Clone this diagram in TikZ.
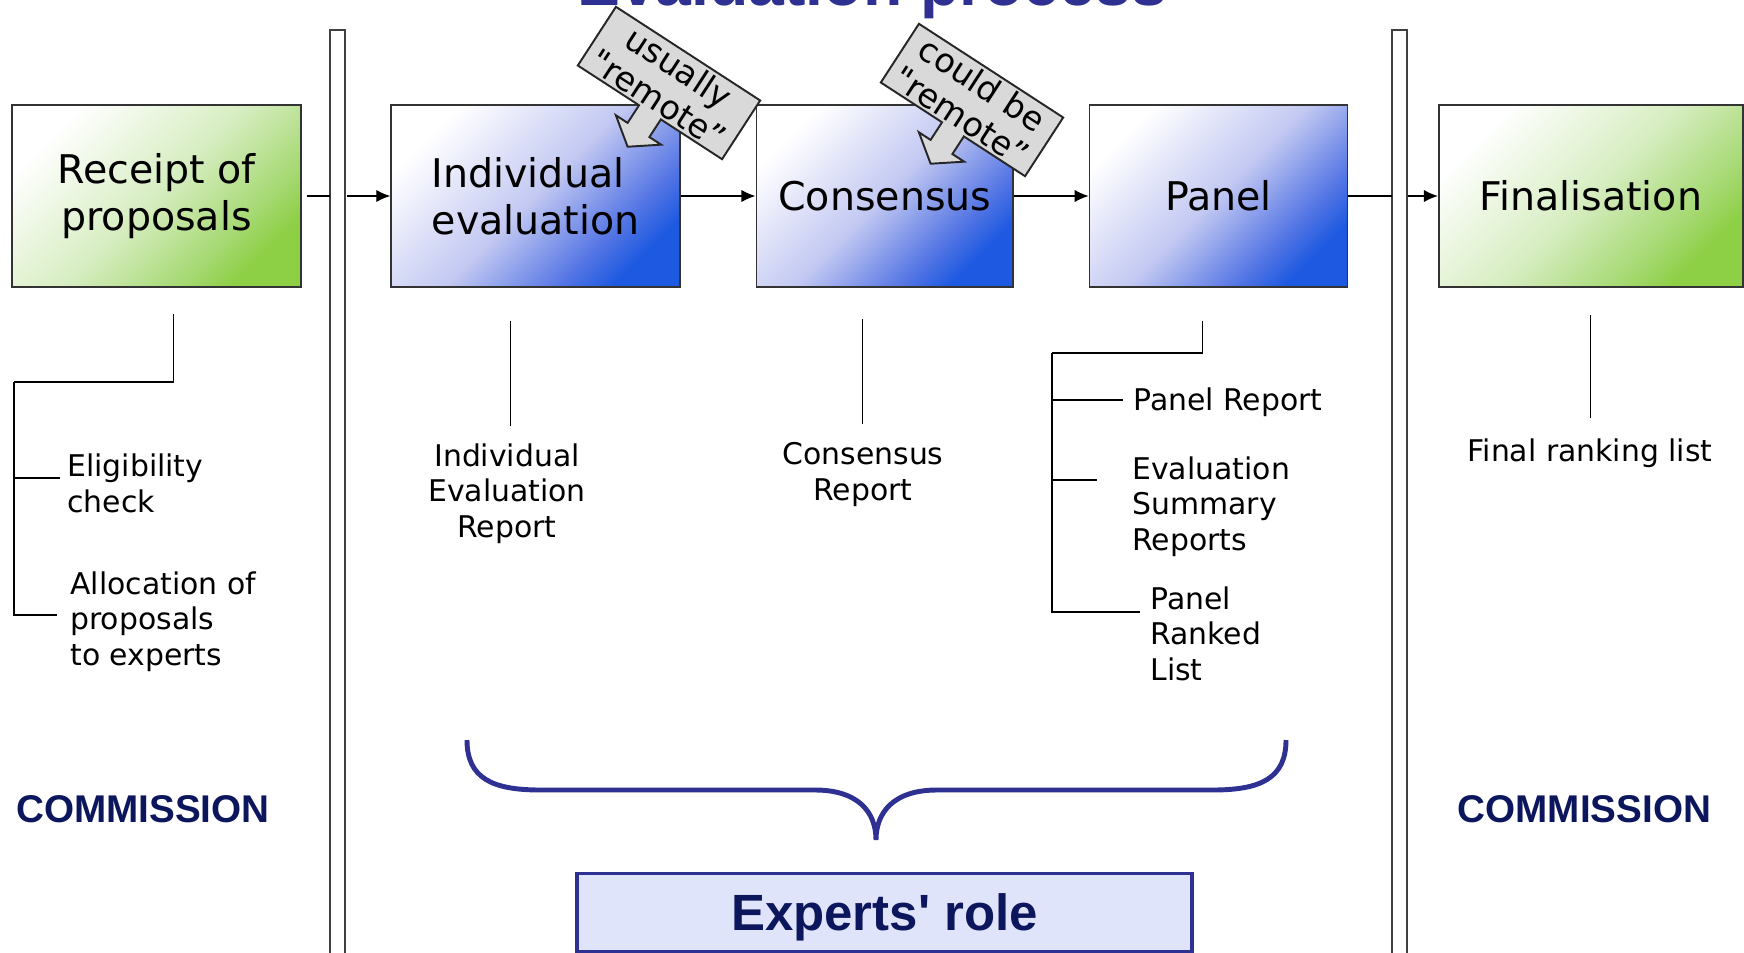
\documentclass[tikz,border=0pt]{standalone}
\usepackage{fontspec}
\setmainfont{DejaVu Sans}
\newfontfamily\arialfont{Liberation Sans}
\usetikzlibrary{positioning,arrows.meta}

\definecolor{boxgreen}{RGB}{141,207,69}
\definecolor{greenq}{RGB}{166,217,115}
\definecolor{greenmid}{RGB}{214,237,192}
\definecolor{boxblue}{RGB}{30,90,225}
\definecolor{blueq}{RGB}{85,118,228}
\definecolor{bluemid}{RGB}{194,200,242}
\definecolor{navy}{RGB}{46,49,146}
\definecolor{darknavy}{RGB}{12,22,92}
\definecolor{rolefill}{RGB}{224,228,250}
\definecolor{callgray}{RGB}{217,217,217}

\pgfdeclareverticalshading{greenfade}{100bp}{color(0bp)=(boxgreen); color(25bp)=(boxgreen); color(33bp)=(greenq); color(50bp)=(greenmid); color(75bp)=(white); color(100bp)=(white)}
\pgfdeclareverticalshading{bluefade}{100bp}{color(0bp)=(boxblue); color(25bp)=(boxblue); color(33bp)=(blueq); color(50bp)=(bluemid); color(75bp)=(white); color(100bp)=(white)}

\begin{document}
\begin{tikzpicture}[x=0.02cm, y=-0.02cm, node distance=1.49cm]
  \tikzstyle{greenbox} = [rectangle, minimum height=3.64cm, text centered, align=center, draw=black!80, line width=1pt, font=\fontsize{22.5}{27}\selectfont, shading=greenfade, shading angle=45]
  \tikzstyle{bluebox} = [rectangle, minimum height=3.64cm, text centered, align=center, draw=black!80, line width=1pt, font=\fontsize{22.5}{27}\selectfont, shading=bluefade, shading angle=45]
  \tikzstyle{note} = [inner sep=0pt, align=left, font=\fontsize{17}{20}\selectfont]
  \tikzstyle{line} = [line width=0.8pt]
  \tikzstyle{arrow} = [line width=0.8pt, ->, >={Latex[length=8pt,width=7pt]}]
  \tikzstyle{bar} = [line width=1.1pt, draw=black!75]
  \tikzstyle{remark} = [fill=callgray, draw=black!85, line width=1.1pt]
  \tikzstyle{remtext} = [rotate=-33, align=center, inner sep=0pt, font=\fontsize{19}{21.5}\selectfont]
  \tikzstyle{commission} = [anchor=base, text=darknavy, font=\arialfont\bfseries\fontsize{22}{26}\selectfont]
  \tikzstyle{brace} = [draw=navy, line width=2.8pt]
  \tikzstyle{rolebox} = [draw=navy, line width=2pt, fill=rolefill, minimum width=12.3cm, minimum height=1.56cm, text depth=0pt, text=darknavy, font=\arialfont\bfseries\fontsize{29}{34}\selectfont]

  \useasboundingbox (0,0) rectangle (1744,953);

  % double bars
  \draw [bar] (330,1000) -- (330,30) -- (345,30) -- (345,1000);
  \draw [bar] (1392,1000) -- (1392,30) -- (1407,30) -- (1407,1000);

  % process boxes
  \node (rec) [greenbox, minimum width=5.78cm] at (156.5,196) {Receipt of\\proposals};
  \node (ind) [bluebox, minimum width=5.78cm, align=left, right=1.77cm of rec] {Individual\\evaluation};
  \node (con) [bluebox, minimum width=5.14cm, right=of ind] {Consensus};
  \node (pan) [bluebox, minimum width=5.16cm, right=of con] {Panel};
  \node (fin) [greenbox, minimum width=6.08cm, right=1.79cm of pan] {Finalisation};

  \coordinate (lbarL) at (330,196);
  \coordinate (lbarR) at (347,196);
  \coordinate (rbarL) at (1392,196);
  \coordinate (rbarR) at (1408,196);
  \draw [line] ([xshift=0.1cm]rec.east) -- (lbarL);
  \draw [arrow] (lbarR) -- (ind);
  \draw [arrow] (ind) -- (con);
  \draw [arrow] (con) -- (pan);
  \draw [line] (pan) -- (rbarL);
  \draw [arrow] (rbarR) -- (fin);

  % outputs
  \node (elig) [note, anchor=base west] at (67,512) {Eligibility\\check};
  \node (alloc) [note, anchor=base west] at (70,665) {Allocation of\\proposals\\to experts};
  \node (ierep) [note, align=center, anchor=base] at (507,537) {Individual\\Evaluation\\Report};
  \node (conrep) [note, align=center, anchor=base] at (863,500) {Consensus\\Report};
  \node (panrep) [note, anchor=base west] at (1133,410) {Panel Report};
  \node (esr) [note, anchor=base west] at (1132,550) {Evaluation\\Summary\\Reports};
  \node (prl) [note, anchor=base west] at (1150,680) {Panel\\Ranked\\List};
  \node (finrank) [note, anchor=base] at (1590,461) {Final ranking list};

  \coordinate (rec-o) at ([xshift=0.34cm,yshift=-0.52cm]rec.south);
  \coordinate (rec-j) at (14,382);
  \draw [line] (rec-o) |- (rec-j);
  \draw [line] (rec-j) |- ([xshift=-0.14cm,yshift=0.68cm]elig.base west);
  \draw [line] (rec-j) |- ([xshift=-0.26cm,yshift=1cm]alloc.base west);

  \coordinate (ind-o) at ([xshift=-0.5cm,yshift=-0.66cm]ind.south);
  \draw [line, shorten >=0.36cm] (ind-o) -- (ind-o |- ierep.north);
  \coordinate (con-o) at ([xshift=-0.45cm,yshift=-0.62cm]con.south);
  \draw [line, shorten >=0.36cm] (con-o) -- (con-o |- conrep.north);

  \coordinate (pan-o) at ([xshift=-0.32cm,yshift=-0.66cm]pan.south);
  \coordinate (pan-j) at (1052,353);
  \draw [line] (pan-o) |- (pan-j);
  \draw [line] (pan-j) |- ([xshift=-0.2cm,yshift=0.2cm]panrep.base west);
  \draw [line] (pan-j) |- ([xshift=-0.7cm,yshift=1.4cm]esr.base west);
  \draw [line] (pan-j) |- ([xshift=-0.2cm,yshift=1.36cm]prl.base west);

  \coordinate (fin-o) at ([yshift=-0.54cm]fin.south);
  \draw [line, shorten >=0.4cm] (fin-o) -- (fin-o |- finrank.north);

  % remote remarks
  \coordinate (rem1) at (669,83);
  \coordinate (rem2) at (972,100);
  \foreach \r in {rem1,rem2}
    \draw [remark, shift={(\r)}, rotate=-33] (-86,-35) -- (86,-35) -- (86,35) -- (13,35) -- (13,56) -- (27,56) -- (0,76) -- (-27,56) -- (-13,56) -- (-13,35) -- (-86,35) -- cycle;
  \node (rem1t) [remtext] at (rem1) {usually\\\textquotedbl remote''};
  \node (rem2t) [remtext] at (rem2) {could be\\\textquotedbl remote''};

  % commission / experts
  \node (comL) [commission] at (143,822) {COMMISSION};
  \node (comR) [commission] at (1584.5,822) {COMMISSION};
  \draw [brace] (467,740) .. controls (467,778) and (492,790) .. (540,790) -- (815,790) .. controls (858,790) and (876,812) .. (876,840) .. controls (876,812) and (894,790) .. (937,790) -- (1213,790) .. controls (1261,790) and (1286,778) .. (1286,740);
  \node (role) [rolebox] at (884.5,912.5) {Experts\textquotesingle{} role};

  \node (title) [anchor=base, text=navy, font=\arialfont\bfseries\fontsize{36.6}{42}\selectfont] at (872,6) {Evaluation process};
\end{tikzpicture}
\end{document}
